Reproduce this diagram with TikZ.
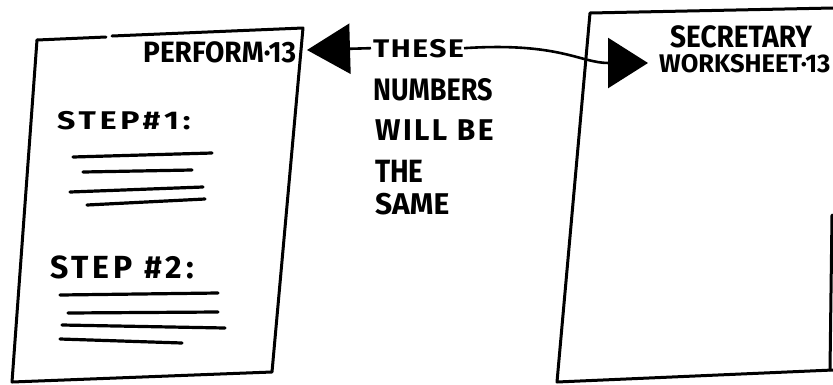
\documentclass[tikz,border=0pt]{standalone}
\usepackage{fontspec}
\usepackage{graphicx}
\setmainfont{Fira Sans}
\usetikzlibrary{positioning,arrows.meta}

% taller hand lettering
\newcommand{\tall}[2][1.15]{\scalebox{1}[#1]{#2}}
\newcommand{\handsize}[2][0]{\bfseries\fontsize{#2}{#2}\selectfont\addfontfeatures{LetterSpace=#1}}

\begin{document}
\begin{tikzpicture}[
		x=1pt, y=-1pt,
		sheet/.style={line width=3pt, line join=round, line cap=round},
		scribble/.style={line width=3.2pt, line cap=round},
		hand/.style={font={\handsize{28}}, inner sep=0pt, anchor=base west},
		pointer/.style={line width=2.6pt, -{Triangle[length=#1, width=50pt]}}
		]
		\useasboundingbox (0,0) rectangle (833,384);
		
		% the two sheets
		\draw[sheet] (37,40) -- (106,37);
		\draw[sheet] (112,36) -- (303,28) -- (272,372) -- (12,382) -- (37,40);
		\draw[sheet] (833,8) -- (590,13) -- (557,382) -- (833,370);
		\draw[sheet] (832,215) -- (830,370);
		
		% headings of the sheets
		\node[hand] (perform) at (143,62) {\tall[1.05]{PERFORM·13}};
		\node[hand, font={\handsize{28}}] (secretary) at (670,47) {\tall[1.1]{SECRETARY}};
		\node[hand, font={\handsize{25.5}}] (worksheet) at (659,72) {WORKSHEET·13};
		
		% steps on the left sheet
		\node[hand, font={\handsize[12]{32}}] (step1) at (57,129) {\tall[0.8]{STEP\#1:}};
		\draw[scribble] (73,157) -- (212,153);
		\draw[scribble] (83,172) -- (192,170);
		\draw[scribble] (70,192) -- (203,187);
		\draw[scribble] (87,205) -- (205,199);
		
		\node[hand, font={\handsize[12]{32}}] (step2) at (50,278) {\tall[1]{STEP \#2:}};
		\draw[scribble] (60,295) -- (218,293);
		\draw[scribble] (68,313) -- (218,312);
		\draw[scribble] (62,325) -- (225,328);
		\draw[scribble] (60,339) -- (182,343);
		
		% the note in the middle
		\node[hand, font={\handsize[5]{30}}] (these) at (373,57) {\tall[0.85]{THESE}};
		\node[hand, font={\handsize{27}}] (numbers) at (373,100) {\tall{NUMBERS}};
		\node[hand, font={\handsize[8]{30}}] (willbe) at (375,140) {WILL BE};
		\node[hand] (the) at (375,182) {\tall{THE}};
		\node[hand, font={\handsize{30}}] (same) at (375,214) {SAME};
		
		\coordinate (lefttip) at (307,50);
		\coordinate (righttip) at (648,63);
		
		\draw[pointer=43pt] ([xshift=-2pt]these.west) -- (lefttip);
		\draw[pointer=40pt] (these.east) .. controls (560,42) and (580,63) .. (righttip);
	\end{tikzpicture}
\end{document}
